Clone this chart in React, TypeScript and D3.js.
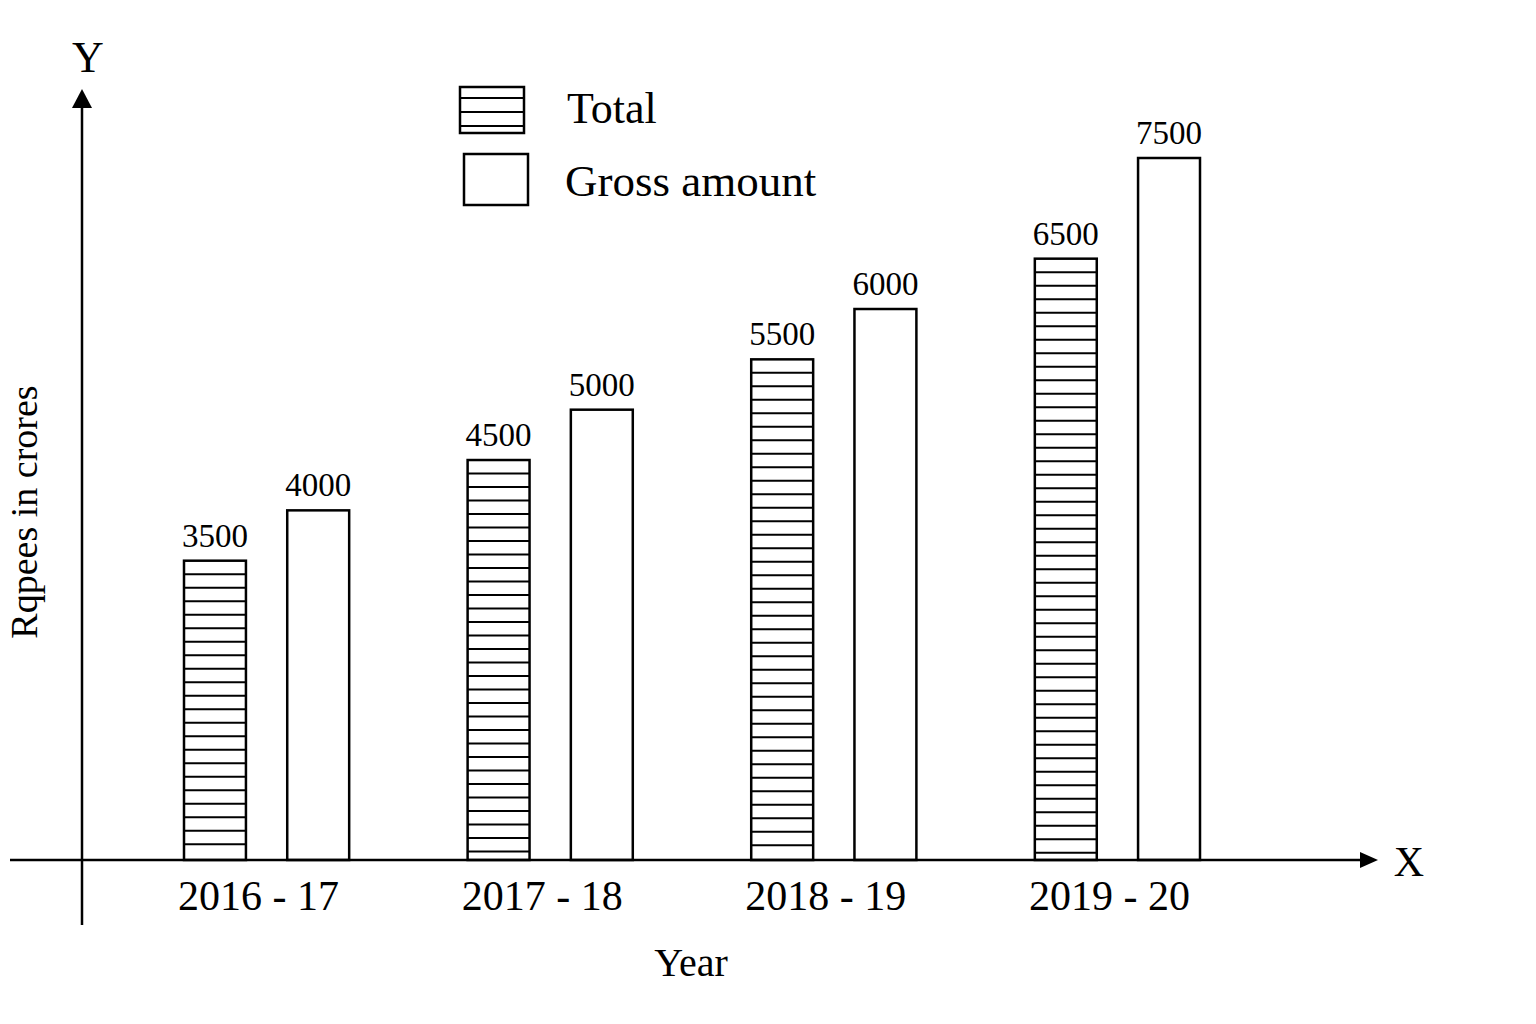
import React from "react";
import * as d3 from "d3";

const categories = ["2016 - 17", "2017 - 18", "2018 - 19", "2019 - 20"];
const seriesNames = ["Total", "Gross amount"];
const totalValues = [3500, 4500, 5500, 6500];
const grossValues = [4000, 5000, 6000, 7500];
const yAxisLabel = "Rqpees in crores";
const xAxisLabel = "Year";

const W = 1536;
const H = 1024;
const FONT = "'Liberation Serif', 'Times New Roman', serif";

export default function App() {
  const baseY = 860;
  const axisX = 82;
  const x0 = d3.scaleBand<string>().domain(categories).range([184, 1200]).paddingInner(0.4176).paddingOuter(0);
  const x1 = d3.scaleBand<string>().domain(seriesNames).range([0, x0.bandwidth()]).paddingInner(0.4).paddingOuter(0);
  const y = d3.scaleLinear().domain([527, 7500]).range([baseY, 158]);

  const hatchStep = 13.5;

  const bars: React.ReactNode[] = [];
  categories.forEach((c, i) => {
    const vals = [totalValues[i], grossValues[i]];
    vals.forEach((v, j) => {
      const s = seriesNames[j];
      const bx = (x0(c) ?? 0) + (x1(s) ?? 0);
      const bw = x1.bandwidth();
      const top = y(v);
      const lines: React.ReactNode[] = [];
      if (j === 0) {
        const ys = d3.range(top + hatchStep, baseY - 4, hatchStep);
        ys.forEach((ly, k) => {
          lines.push(<line key={k} x1={bx} x2={bx + bw} y1={ly} y2={ly} stroke="#000" strokeWidth={2} />);
        });
      }
      bars.push(
        <g key={`${i}-${j}`}>
          <rect x={bx} y={top} width={bw} height={baseY - top} fill="#fff" stroke="#000" strokeWidth={2.5} />
          {lines}
          <text x={bx + bw / 2} y={top - 14} textAnchor="middle" fontSize={33} fontFamily={FONT} fill="#000">{v}</text>
        </g>
      );
    });
  });

  return (
    <svg width={W} height={H} style={{ position: "absolute", left: 0, top: 0, background: "#fff" }}>
      <rect x={0} y={0} width={W} height={H} fill="#fff" />
      {bars}
      <line x1={axisX} x2={axisX} y1={925} y2={104} stroke="#000" strokeWidth={2.5} />
      <path d={`M${axisX},89 L${axisX - 10},108 L${axisX + 10},108 Z`} fill="#000" />
      <line x1={10} x2={1364} y1={baseY} y2={baseY} stroke="#000" strokeWidth={2.5} />
      <path d={`M1378,${baseY} L1360,${baseY - 8} L1360,${baseY + 8} Z`} fill="#000" />
      <text x={88} y={72} textAnchor="middle" fontSize={44} fontFamily={FONT}>Y</text>
      <text x={1409} y={876} textAnchor="middle" fontSize={42} fontFamily={FONT}>X</text>
      {categories.map((c) => (
        <text key={c} x={(x0(c) ?? 0) + x0.bandwidth() / 2 - 8} y={910} textAnchor="middle" fontSize={42} fontFamily={FONT}>{c}</text>
      ))}
      <text x={691} y={976} textAnchor="middle" fontSize={40} fontFamily={FONT}>{xAxisLabel}</text>
      <text transform={`translate(37,512) rotate(-90)`} textAnchor="middle" fontSize={38} fontFamily={FONT}>{yAxisLabel}</text>
      <g>
        <rect x={460} y={87} width={64} height={46} fill="#fff" stroke="#000" strokeWidth={2.5} />
        {[98, 112, 126].map((ly) => (
          <line key={ly} x1={460} x2={524} y1={ly} y2={ly} stroke="#000" strokeWidth={2} />
        ))}
        <text x={567} y={123} fontSize={44} fontFamily={FONT}>{seriesNames[0]}</text>
        <rect x={464} y={154} width={64} height={51} fill="#fff" stroke="#000" strokeWidth={2.5} />
        <text x={565} y={196} fontSize={45} fontFamily={FONT}>{seriesNames[1]}</text>
      </g>
    </svg>
  );
}
